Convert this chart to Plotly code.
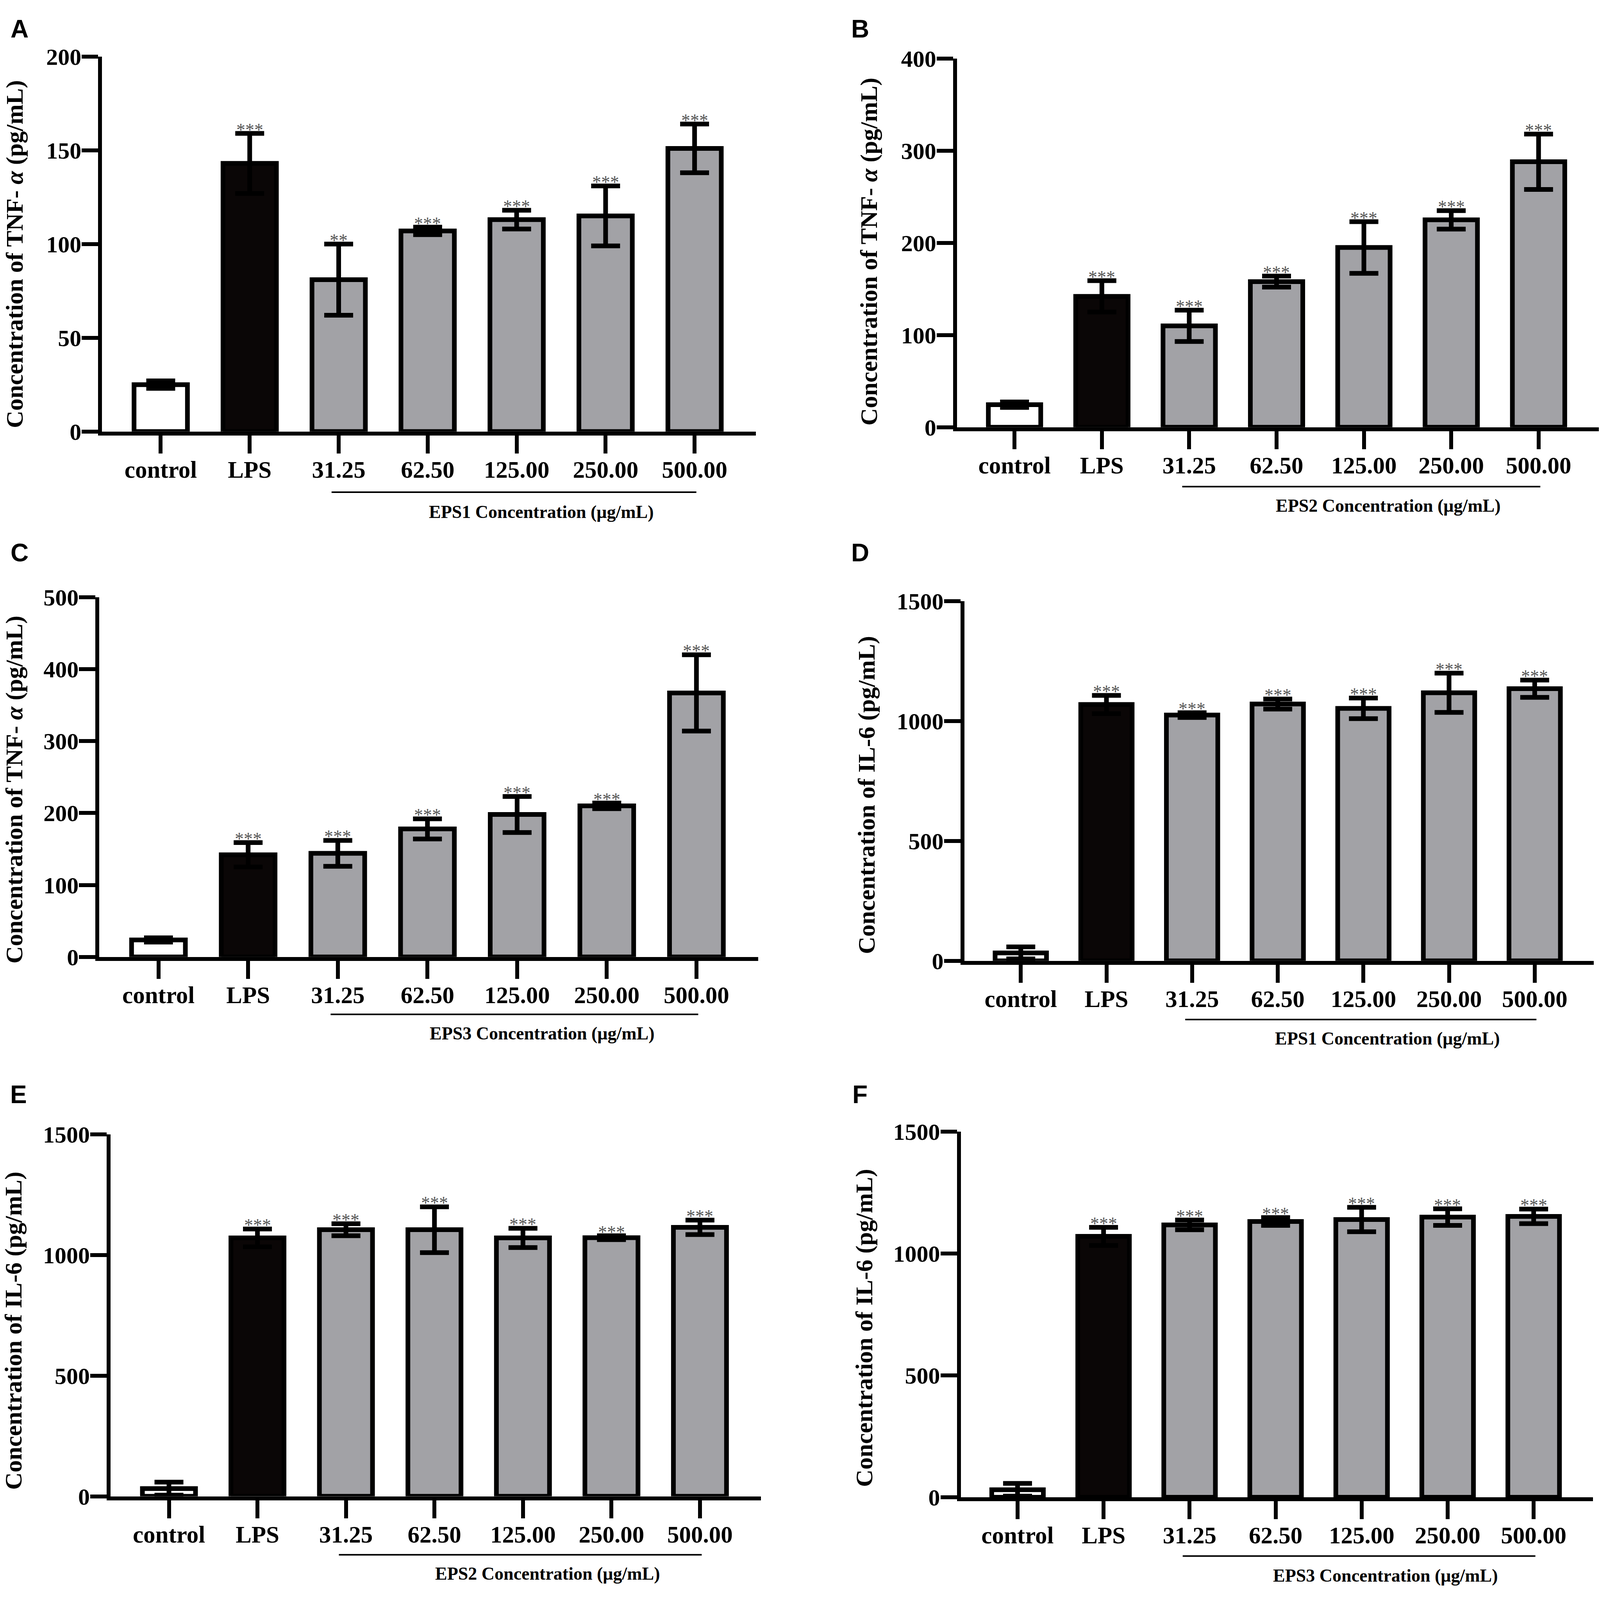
import plotly.graph_objects as go

W, H = 4125, 4824

# =============================================================================
# Data (mean and SD per group)
# =============================================================================
groups = ["control", "LPS", "31.25", "62.50", "125.00", "250.00", "500.00"]

tnf_eps1 = [25, 143, 81, 107, 113, 115, 151]
tnf_eps1_sd = [2, 16, 19, 2, 5, 16, 13]
tnf_eps1_sig = ["", "***", "**", "***", "***", "***", "***"]

tnf_eps2 = [24.5, 142, 110, 158, 195, 225, 288]
tnf_eps2_sd = [3, 17, 17, 6, 28, 10, 30]
tnf_eps2_sig = ["", "***", "***", "***", "***", "***", "***"]

tnf_eps3 = [23.6, 142, 144, 178, 198, 210, 367]
tnf_eps3_sd = [3, 17, 18, 14, 25, 4, 53]
tnf_eps3_sig = ["", "***", "***", "***", "***", "***", "***"]

il6_eps1 = [33, 1069, 1025, 1071, 1053, 1118, 1135]
il6_eps1_sd = [25, 38, 10, 21, 43, 82, 36]
il6_eps1_sig = ["", "***", "***", "***", "***", "***", "***"]

il6_eps2 = [32, 1071, 1105, 1105, 1071, 1072, 1115]
il6_eps2_sd = [27, 37, 25, 95, 40, 8, 30]
il6_eps2_sig = ["", "***", "***", "***", "***", "***", "***"]

il6_eps3 = [31, 1070, 1117, 1131, 1139, 1149, 1152]
il6_eps3_sd = [26, 37, 20, 16, 50, 34, 30]
il6_eps3_sig = ["", "***", "***", "***", "***", "***", "***"]

bar_colors = ["#ffffff", "#0a0606", "#a2a2a6", "#a2a2a6", "#a2a2a6", "#a2a2a6", "#a2a2a6"]

TNF_TITLE = "Concentration of TNF- <i>α</i> (pg/mL)"
IL6_TITLE = "Concentration of IL-6 (pg/mL)"

# =============================================================================
# Panel layout in pixels of the 4125x4824 page:
# box = (axis left, axis right, zero line, top tick), ul/lab = offsets of the
# dose bracket and its label below the zero line, letter and y-title centres
# =============================================================================
panels = [
    dict(letter="A", y=tnf_eps1, sd=tnf_eps1_sd, sig=tnf_eps1_sig, title=TNF_TITLE,
         ymax=200, dtick=50, eps="EPS1", box=(263, 1949, 1284, 135), ul=186, lab=246,
         let_xy=(50, 50), tit_xy=(37, 740)),
    dict(letter="B", y=tnf_eps2, sd=tnf_eps2_sd, sig=tnf_eps2_sig, title=TNF_TITLE,
         ymax=400, dtick=100, eps="EPS2", box=(2467, 4122, 1271, 141), ul=182, lab=240,
         let_xy=(2218, 50), tit_xy=(2240, 733)),
    dict(letter="C", y=tnf_eps3, sd=tnf_eps3_sd, sig=tnf_eps3_sig, title=TNF_TITLE,
         ymax=500, dtick=100, eps="EPS3", box=(256, 1955, 2894, 1792), ul=176, lab=234,
         let_xy=(50, 1656), tit_xy=(36, 2381)),
    dict(letter="D", y=il6_eps1, sd=il6_eps1_sd, sig=il6_eps1_sig, title=IL6_TITLE,
         ymax=1500, dtick=500, eps="EPS1", box=(2486, 4109, 2906, 1804), ul=180, lab=238,
         let_xy=(2218, 1656), tit_xy=(2234, 2398)),
    dict(letter="E", y=il6_eps2, sd=il6_eps2_sd, sig=il6_eps2_sig, title=IL6_TITLE,
         ymax=1500, dtick=500, eps="EPS2", box=(285, 1962, 4547, 3438), ul=179, lab=237,
         let_xy=(48, 3316), tit_xy=(34, 4039)),
    dict(letter="F", y=il6_eps3, sd=il6_eps3_sd, sig=il6_eps3_sig, title=IL6_TITLE,
         ymax=1500, dtick=500, eps="EPS3", box=(2477, 4107, 4550, 3429), ul=180, lab=240,
         let_xy=(2217, 3316), tit_xy=(2228, 4031)),
]

SERIF = "Liberation Serif"
SANS = "Liberation Sans"

fig = go.Figure()
layout = dict(
    autosize=True,
    margin=dict(l=0, r=0, t=0, b=0),
    paper_bgcolor="white", plot_bgcolor="white",
    showlegend=False,
    annotations=[], shapes=[],
)

for i, p in enumerate(panels, start=1):
    xa = "x" if i == 1 else f"x{i}"
    ya = "y" if i == 1 else f"y{i}"
    x0, x1, yz, yt = p["box"]

    fig.add_trace(go.Bar(
        x=groups, y=p["y"], width=0.6,
        marker=dict(color=bar_colors, line=dict(color="black", width=12)),
        error_y=dict(type="data", array=p["sd"], visible=True,
                     color="black", thickness=12, width=37),
        xaxis=xa, yaxis=ya, hoverinfo="skip",
    ))

    layout["xaxis" if i == 1 else f"xaxis{i}"] = dict(
        domain=[x0 / W, x1 / W], anchor=ya, type="category",
        range=[-0.66, 6.69], showgrid=False, zeroline=False,
        showline=True, linecolor="black", linewidth=10,
        ticks="outside", ticklen=46, tickwidth=10, tickcolor="black",
        tickfont=dict(family=SERIF, size=61, color="black", weight="bold"),
        ticklabelstandoff=-11, fixedrange=True,
    )
    layout["yaxis" if i == 1 else f"yaxis{i}"] = dict(
        domain=[1 - yz / H, 1 - yt / H], anchor=xa,
        range=[0, p["ymax"]], dtick=p["dtick"], tick0=0,
        showgrid=False, zeroline=False,
        showline=True, linecolor="black", linewidth=10,
        ticks="outside", ticklen=42, tickwidth=10, tickcolor="black",
        tickfont=dict(family=SERIF, size=60, color="black", weight="bold"),
        ticklabelstandoff=-11, fixedrange=True,
    )

    # significance stars above the error caps (x given as category index)
    for k, (m, s, star) in enumerate(zip(p["y"], p["sd"], p["sig"])):
        if star:
            layout["annotations"].append(dict(
                x=k, y=m + s, xref=xa, yref=ya, text=star, showarrow=False,
                xanchor="center", yanchor="bottom", yshift=-18,
                font=dict(family=SERIF, size=46, color="#555555"),
            ))

    # bracket line under the EPS doses and its label
    yl = 1 - (yz + p["ul"]) / H
    layout["shapes"].append(dict(
        type="line", xref=xa, yref="paper", x0=1.92, x1=6.02, y0=yl, y1=yl,
        line=dict(color="black", width=4),
    ))
    layout["annotations"].append(dict(
        x=4.28, y=1 - (yz + p["lab"]) / H, xref=xa, yref="paper",
        text=f"{p['eps']} Concentration (μg/mL)", showarrow=False,
        xanchor="center", yanchor="middle",
        font=dict(family=SERIF, size=46, color="black", weight="bold"),
    ))

    # y-axis title
    tx, ty = p["tit_xy"]
    layout["annotations"].append(dict(
        x=tx / W, y=1 - ty / H, xref="paper", yref="paper",
        text=p["title"], textangle=-90, showarrow=False,
        xanchor="center", yanchor="middle",
        font=dict(family=SERIF, size=62, color="black", weight="bold"),
    ))

    # panel letter
    lx, ly = p["let_xy"]
    layout["annotations"].append(dict(
        x=lx / W, y=1 - ly / H, xref="paper", yref="paper",
        text=p["letter"], showarrow=False,
        xanchor="center", yanchor="middle",
        font=dict(family=SANS, size=64, color="black", weight="bold"),
    ))

fig.update_layout(**layout)

# fill the browser window: drop the default body margin and resize to it
fill_window = (
    "document.body.style.margin='0px';"
    "var gd=document.getElementById('{plot_id}');"
    "gd.style.width='100vw'; gd.style.height='100vh';"
    "Plotly.Plots.resize(gd);"
)
fig.write_html("out.html", default_width="calc(100vw - 16px)",
               default_height="calc(100vh - 16px)", post_script=fill_window,
               config={"displayModeBar": False})
